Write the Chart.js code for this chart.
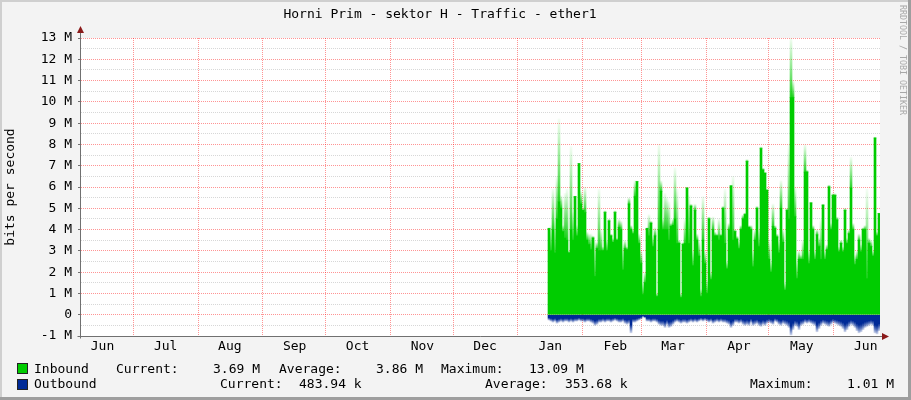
<!DOCTYPE html>
<html>
<head>
<meta charset="utf-8">
<script src="https://cdn.jsdelivr.net/npm/chart.js@4.4.1/dist/chart.umd.min.js"></script>
<style>
  html,body{margin:0;padding:0;background:#f3f3f3;}
  #wrap{position:relative;width:911px;height:400px;font-family:'DejaVu Sans Mono',monospace;font-size:13px;color:#000;}
  #wrap canvas{position:absolute;left:0;top:0;}
  .t{position:absolute;line-height:16px;white-space:pre;}
  .sw{position:absolute;left:17px;width:9px;height:9px;border:1px solid #222;}
  #mark{position:absolute;left:898px;top:5px;writing-mode:vertical-rl;font-size:8.3px;line-height:9px;color:#a8a8a8;}
</style>
</head>
<body>
<div id="wrap">
  <canvas id="c" width="911" height="400"></canvas>
  <div id="mark">RRDTOOL / TOBI OETIKER</div>

  <div class="sw" style="top:363px;background:#00cc00"></div>
  <div class="t" style="left:34px;top:361px">Inbound</div>
  <div class="t" style="left:116px;top:361px">Current:</div>
  <div class="t" style="left:213px;top:361px">3.69 M</div>
  <div class="t" style="left:279px;top:361px">Average:</div>
  <div class="t" style="left:376px;top:361px">3.86 M</div>
  <div class="t" style="left:441px;top:361px">Maximum:</div>
  <div class="t" style="left:529px;top:361px">13.09 M</div>

  <div class="sw" style="top:379px;background:#002a97"></div>
  <div class="t" style="left:34px;top:376px">Outbound</div>
  <div class="t" style="left:220px;top:376px">Current:</div>
  <div class="t" style="left:299px;top:376px">483.94 k</div>
  <div class="t" style="left:485px;top:376px">Average:</div>
  <div class="t" style="left:565px;top:376px">353.68 k</div>
  <div class="t" style="left:750px;top:376px">Maximum:</div>
  <div class="t" style="left:847px;top:376px">1.01 M</div>
</div>
<script>
/* Horni Prim - sektor H, ether1, yearly traffic (Mbit/s) */

const TITLE = 'Horni Prim - sektor H - Traffic - ether1';

// x axis in days, day 0 = 1 Jun of the first year
const X_MIN = 5, X_MAX = 387.2;
const MONTHS           = ['Jun','Jul','Aug','Sep','Oct','Nov','Dec','Jan','Feb','Mar','Apr','May','Jun'];
const MONTH_LABEL_DAYS = [15.3, 45.5, 76.2, 107.2, 137.3, 168.3, 198.3, 229.5, 260.6, 288.2, 319.7, 349.8, 380.4];
const MONTH_START_DAYS = [30, 61, 92, 122, 153, 183, 214, 245, 273, 304, 334, 365];

// samples: one every ~23 h starting mid January
const SAMPLE_START = 228.87, SAMPLE_STEP = 0.9567;

// inbound, solid part (M)
const INBOUND = [
  4.05,3.0,4.0,2.9,4.5,5.3,5.0,3.9,3.6,3.5,2.9,4.0,3.5,5.55,3.7,7.1,5.2,4.9,4.8,3.5,3.3,3.05,3.6,1.8,3.1,3.0,3.0,3.0,4.8,3.0,4.4,3.7,3.4,4.8,
  3.5,4.1,4.0,2.1,3.1,3.05,5.2,4.0,3.8,5.55,6.25,3.35,2.4,0.95,1.5,4.05,3.7,4.3,3.2,3.7,0.85,4.0,5.8,4.0,4.0,4.0,3.5,4.15,4.2,4.5,3.35,3.35,0.8,3.3,
  3.35,5.95,3.35,5.1,2.3,4.9,3.5,2.75,0.85,3.5,2.4,1.0,4.5,1.65,4.0,3.7,3.7,3.5,3.7,5.0,3.35,2.15,4.0,6.05,3.5,3.9,3.55,3.1,4.0,4.5,4.7,7.2,4.1,
  4.0,2.25,3.5,5.0,3.2,7.8,6.8,6.65,5.85,2.6,2.0,4.15,4.05,3.65,2.9,5.0,3.4,1.15,4.9,4.5,10.2,10.2,4.6,1.7,2.6,2.6,2.6,6.7,6.7,2.4,5.25,4.0,2.6,
  3.75,3.2,2.6,5.15,2.6,3.05,6.0,4.0,5.6,5.6,4.45,2.95,3.35,2.95,4.9,3.35,3.8,5.95,4.0,2.35,2.6,3.5,2.95,4.0,4.0,1.7,3.35,3.2,2.75,8.3,3.7,4.75,3.6
];
// inbound, faded peak (M)
const INBOUND_PEAK = [
  4.1,4.2,5.9,4.5,6.5,9.2,5.6,4.2,5.7,5.9,3.0,7.9,4.8,5.6,4.2,7.1,5.8,5.0,6.0,3.9,3.8,3.8,3.7,3.5,3.4,5.9,4.0,3.2,4.9,3.5,4.5,3.8,3.6,4.9,
  3.6,4.5,4.4,3.3,3.5,3.2,5.5,4.2,4.0,6.3,6.3,3.8,3.0,1.5,2.0,4.1,4.7,4.4,3.7,4.1,1.0,8.0,6.3,4.5,5.7,5.5,5.3,4.3,4.5,6.9,5.9,3.5,1.0,3.4,
  4.5,6.0,5.6,5.2,3.0,5.2,3.8,3.5,1.2,5.55,3.0,1.6,4.6,2.0,4.6,3.9,3.8,4.5,3.8,5.1,5.9,2.5,4.3,6.1,6.5,4.0,3.7,3.5,4.2,4.7,4.8,7.3,4.2,
  4.2,3.0,4.0,5.1,4.0,7.9,6.9,6.7,5.9,3.5,2.5,5.2,4.2,3.8,3.5,6.3,4.0,1.5,5.0,8.0,13.0,11.0,6.0,2.5,3.0,2.8,3.5,8.0,6.8,3.0,5.3,4.2,3.0,
  4.0,3.6,4.5,5.2,3.0,3.3,6.1,4.3,5.7,5.7,4.6,3.2,3.5,3.2,5.0,3.6,4.0,7.4,4.3,2.8,3.0,3.8,3.3,4.1,4.2,5.9,3.6,3.5,3.0,8.35,3.9,4.8,3.7
];
// outbound, drawn below zero (M)
const OUTBOUND = [
  -0.25,-0.3,-0.35,-0.3,-0.4,-0.35,-0.3,-0.35,-0.3,-0.3,-0.35,-0.3,-0.35,-0.3,-0.3,-0.25,-0.3,-0.3,-0.35,-0.3,-0.3,-0.35,-0.4,-0.5,-0.45,-0.35,-0.35,-0.3,-0.35,-0.3,-0.3,-0.35,-0.3,-0.25,
  -0.3,-0.35,-0.35,-0.3,-0.4,-0.45,-0.4,-0.85,-0.35,-0.35,-0.3,-0.25,-0.2,-0.1,-0.15,-0.3,-0.3,-0.35,-0.3,-0.3,-0.35,-0.45,-0.5,-0.5,-0.6,-0.45,-0.6,-0.55,-0.45,-0.35,-0.3,-0.35,-0.4,-0.35,
  -0.35,-0.4,-0.35,-0.3,-0.35,-0.3,-0.35,-0.3,-0.25,-0.3,-0.25,-0.3,-0.35,-0.3,-0.4,-0.35,-0.3,-0.35,-0.3,-0.35,-0.35,-0.4,-0.45,-0.6,-0.5,-0.35,-0.35,-0.4,-0.35,-0.45,-0.5,-0.45,-0.5,
  -0.35,-0.5,-0.45,-0.4,-0.5,-0.55,-0.45,-0.5,-0.4,-0.35,-0.4,-0.45,-0.3,-0.35,-0.45,-0.5,-0.4,-0.45,-0.5,-0.6,-0.95,-0.7,-0.5,-0.55,-0.7,-0.5,-0.45,-0.35,-0.4,-0.35,-0.4,-0.45,-0.5,
  -0.8,-0.65,-0.5,-0.4,-0.45,-0.5,-0.55,-0.45,-0.35,-0.4,-0.45,-0.5,-0.55,-0.65,-0.8,-0.7,-0.55,-0.45,-0.5,-0.6,-0.75,-0.85,-0.8,-0.7,-0.6,-0.55,-0.5,-0.45,-0.5,-0.85,-0.9,-0.75,-0.45
];

const Y_MIN = -1, Y_MAX = 13;

const GREEN = '#00cc00', BLUE = '#002a97';
const MGRID = 'rgba(255,0,0,0.42)', GRID = 'rgba(140,140,140,0.35)';

Chart.defaults.font.family = "'DejaVu Sans Mono', monospace";
Chart.defaults.font.size = 13;
Chart.defaults.color = '#000';

const xAt = i => SAMPLE_START + i*SAMPLE_STEP;

/* vertical gradient between two values on the y scale */
function vGrad(c, from, to, stops){
  const chart = c.chart, y = chart.scales.y;
  if (!y) return stops[0][1];
  const p0 = y.getPixelForValue(from), p1 = y.getPixelForValue(to);
  if (!isFinite(p0) || !isFinite(p1) || Math.abs(p1-p0) < 0.5) return stops[0][1];
  const g = chart.ctx.createLinearGradient(0,p0,0,p1);
  stops.forEach(([o,col])=>g.addColorStop(o,col));
  return g;
}

const frame = {
  id:'frame',
  beforeDraw(chart){
    const {ctx, chartArea:a, width:w, height:h} = chart;
    ctx.save();
    ctx.fillStyle='#f3f3f3'; ctx.fillRect(0,0,w,h);
    ctx.fillStyle='#cfcfcf'; ctx.fillRect(0,0,w,2); ctx.fillRect(0,0,2,h);
    ctx.fillStyle='#9e9e9e'; ctx.fillRect(w-3,0,3,h); ctx.fillRect(0,h-3,w,3);
    ctx.fillStyle='#fff'; ctx.fillRect(a.left,a.top,a.right-a.left,a.bottom-a.top);
    ctx.restore();
  },
  afterDraw(chart){
    const {ctx, chartArea:a} = chart;
    const x0 = a.left-0.5, y0 = a.bottom+0.5;
    ctx.save();
    ctx.strokeStyle='#707070'; ctx.lineWidth=1;
    ctx.beginPath();
    ctx.moveTo(x0, a.top-7); ctx.lineTo(x0, y0+2);
    ctx.moveTo(x0-3, y0); ctx.lineTo(a.right+4, y0);
    ctx.stroke();
    ctx.fillStyle='#8b1a1a';
    ctx.beginPath(); ctx.moveTo(x0, a.top-12); ctx.lineTo(x0-3.5, a.top-5); ctx.lineTo(x0+3.5, a.top-5); ctx.closePath(); ctx.fill();
    ctx.beginPath(); ctx.moveTo(a.right+9, y0); ctx.lineTo(a.right+2, y0-3.5); ctx.lineTo(a.right+2, y0+3.5); ctx.closePath(); ctx.fill();
    ctx.restore();
  }
};

new Chart(document.getElementById('c'), {
  type:'bar',
  data:{
    datasets:[
      { label:'Inbound', order:1,
        data: INBOUND.map((v,i)=>({x:xAt(i), y:v})),
        backgroundColor: GREEN },
      { label:'Inbound peak', order:2,
        data: INBOUND_PEAK.map((v,i)=>({x:xAt(i), y:[INBOUND[i], v]})),
        backgroundColor: c => c.type!=='data' ? GREEN :
          vGrad(c, c.raw.y[0], c.raw.y[1], [[0,'rgba(0,204,0,0.85)'],[1,'rgba(0,204,0,0.04)']]) },
      { label:'Outbound', order:1,
        data: OUTBOUND.map((v,i)=>({x:xAt(i), y:v})),
        backgroundColor: c => c.type!=='data' ? BLUE :
          vGrad(c, 0, c.raw.y, [[0,BLUE],[0.55,BLUE],[1,'rgba(0,42,151,0.2)']]) }
    ]
  },
  options:{
    responsive:false, animation:false, devicePixelRatio:1, events:[],
    datasets:{ bar:{ grouped:false, barThickness:2, borderWidth:0 } },
    layout:{ padding:{ top:0, right:31, bottom:0, left:0 } },
    plugins:{
      legend:{ display:false },
      tooltip:{ enabled:false },
      title:{ display:true, text:TITLE, color:'#000',
        font:{ size:13, weight:'normal', lineHeight:16/13 }, padding:{ top:7, bottom:15 } }
    },
    scales:{
      y:{
        type:'linear', min:Y_MIN, max:Y_MAX, z:1,
        afterBuildTicks: s => { const t=[]; for(let v=Y_MIN; v<=Y_MAX; v+=0.5) t.push({value:v}); s.ticks=t; },
        afterFit: s => { s.width = 81; },
        ticks:{ autoSkip:false, padding:6, color:'#000',
          callback: v => Number.isInteger(v) ? (v===0 ? '0' : v+' M') : '' },
        grid:{ color: c => Number.isInteger(c.tick.value) ? MGRID : GRID, lineWidth:1,
          tickLength:3, tickColor: c => Number.isInteger(c.tick.value) ? '#707070' : 'rgba(0,0,0,0)', tickBorderDash:[] },
        border:{ display:false, dash:[1,1] },
        title:{ display:true, text:'bits per second', color:'#000', font:{ size:13 }, padding:{ top:3, bottom:0 } }
      },
      x:{
        type:'linear', position:'bottom', min:X_MIN, max:X_MAX, offset:false, z:1,
        afterBuildTicks: s => { s.ticks = MONTH_START_DAYS.map(v=>({value:v})); },
        afterFit: s => { s.height = 0; },
        ticks:{ display:false },
        grid:{ offset:false, color:MGRID, lineWidth:1, drawTicks:false },
        border:{ display:false, dash:[1,1] }
      },
      xl:{
        type:'linear', position:'bottom', min:X_MIN, max:X_MAX, offset:false,
        afterBuildTicks: s => { s.ticks = MONTH_LABEL_DAYS.map(v=>({value:v})); },
        afterFit: s => { s.height = 64; },
        ticks:{ autoSkip:false, maxRotation:0, padding:3, color:'#000', callback:(v,i)=>MONTHS[i] },
        grid:{ display:false, drawTicks:false },
        border:{ display:false }
      }
    }
  },
  plugins:[frame]
});
</script>
</body>
</html>
